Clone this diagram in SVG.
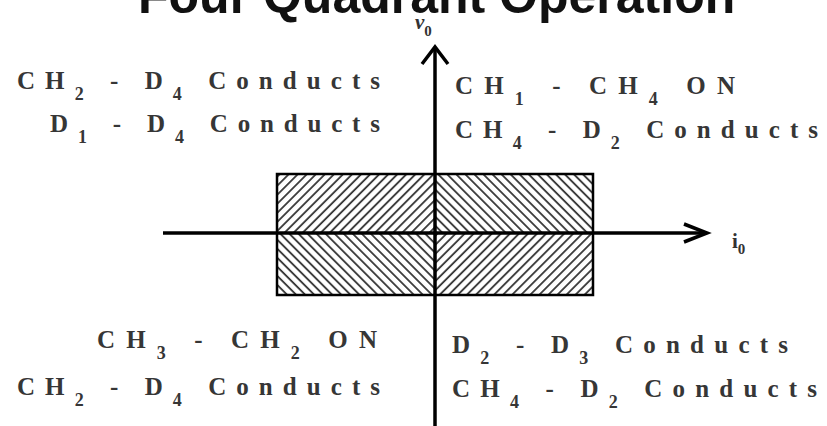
<svg xmlns="http://www.w3.org/2000/svg" width="827" height="426" viewBox="0 0 827 426">
<style>
.lbl{font-family:"Liberation Serif","Times New Roman",serif;font-size:25px;font-weight:bold;fill:#363636}
.sub{font-size:18px}
.ax{stroke:#000;stroke-width:3.5;fill:none}
.ah{stroke:#000;stroke-width:3.5;fill:none;stroke-linejoin:miter}
.title{font-family:"Liberation Sans",Arial,sans-serif;font-weight:bold;font-size:50px;fill:#111}
</style>
<defs>
<pattern id="hF" width="6.4" height="6.4" patternUnits="userSpaceOnUse" patternTransform="rotate(45)">
<line x1="1" y1="0" x2="1" y2="6.4" stroke="#333" stroke-width="1.8"/>
</pattern>
<pattern id="hB" width="6.4" height="6.4" patternUnits="userSpaceOnUse" patternTransform="rotate(-45)">
<line x1="1" y1="0" x2="1" y2="6.4" stroke="#333" stroke-width="1.8"/>
</pattern>
</defs>
<rect width="827" height="426" fill="#fff"/>
<text class="title" x="138" y="13">Four Quadrant Operation</text>
<g id="operating-region">
<rect x="277" y="174" width="158" height="59" fill="url(#hF)"/>
<rect x="435" y="174" width="158" height="59" fill="url(#hB)"/>
<rect x="277" y="233" width="158" height="62" fill="url(#hB)"/>
<rect x="435" y="233" width="158" height="62" fill="url(#hF)"/>
<rect x="277" y="174" width="316" height="121" fill="none" stroke="#000" stroke-width="2.5"/>
</g>
<g id="connectors">
<line class="ax" x1="435" y1="47" x2="435" y2="426"/>
<line class="ax" x1="163" y1="233" x2="707" y2="233"/>
<path class="ah" d="M422,64 L435,47 L448,64"/>
<path class="ah" d="M684,224 L707,233 L684,242"/>
</g>
<g id="axis-v0">
<text x="415" y="29" style="font-family:'Liberation Serif',serif;font-style:italic;font-weight:bold;font-size:21px;fill:#333">v<tspan dy="7" font-size="15" font-style="normal">0</tspan></text>
</g>
<g id="axis-i0">
<text x="732" y="248" style="font-family:'Liberation Serif',serif;font-weight:bold;font-size:21px;fill:#333">i<tspan dy="6" font-size="15">0</tspan></text>
</g>
<g id="q2">
<text class="lbl" x="17" y="89" textLength="363" lengthAdjust="spacing">CH<tspan class="sub" dy="11">2</tspan><tspan dy="-11"> - D</tspan><tspan class="sub" dy="11">4</tspan><tspan dy="-11"> Conducts</tspan></text>
<text class="lbl" x="50" y="132" textLength="330" lengthAdjust="spacing">D<tspan class="sub" dy="11">1</tspan><tspan dy="-11"> - D</tspan><tspan class="sub" dy="11">4</tspan><tspan dy="-11"> Conducts</tspan></text>
</g>
<g id="q1">
<text class="lbl" x="455" y="94" textLength="280" lengthAdjust="spacing">CH<tspan class="sub" dy="11">1</tspan><tspan dy="-11"> - CH</tspan><tspan class="sub" dy="11">4</tspan><tspan dy="-11"> ON</tspan></text>
<text class="lbl" x="455" y="138" textLength="363" lengthAdjust="spacing">CH<tspan class="sub" dy="11">4</tspan><tspan dy="-11"> - D</tspan><tspan class="sub" dy="11">2</tspan><tspan dy="-11"> Conducts</tspan></text>
</g>
<g id="q3">
<text class="lbl" x="97" y="348" textLength="280" lengthAdjust="spacing">CH<tspan class="sub" dy="11">3</tspan><tspan dy="-11"> - CH</tspan><tspan class="sub" dy="11">2</tspan><tspan dy="-11"> ON</tspan></text>
<text class="lbl" x="17" y="395" textLength="363" lengthAdjust="spacing">CH<tspan class="sub" dy="11">2</tspan><tspan dy="-11"> - D</tspan><tspan class="sub" dy="11">4</tspan><tspan dy="-11"> Conducts</tspan></text>
</g>
<g id="q4">
<text class="lbl" x="452" y="353" textLength="336" lengthAdjust="spacing">D<tspan class="sub" dy="11">2</tspan><tspan dy="-11"> -  D</tspan><tspan class="sub" dy="11">3</tspan><tspan dy="-11"> Conducts</tspan></text>
<text class="lbl" x="452" y="397" textLength="365" lengthAdjust="spacing">CH<tspan class="sub" dy="11">4</tspan><tspan dy="-11"> - D</tspan><tspan class="sub" dy="11">2</tspan><tspan dy="-11"> Conducts</tspan></text>
</g>
</svg>
